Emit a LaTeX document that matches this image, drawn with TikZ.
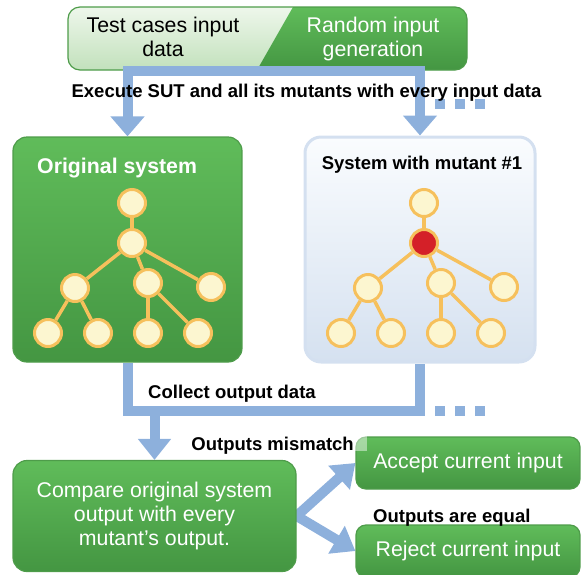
\documentclass[tikz,border=0pt]{standalone}
\usepackage{fontspec}
\setmainfont{Liberation Sans}
\usetikzlibrary{arrows.meta}
\pgfdeclarelayer{back}
\pgfsetlayers{back,main}
\definecolor{flowblue}{RGB}{141,176,220}
\definecolor{greentop}{RGB}{96,188,90}
\definecolor{greenbot}{RGB}{68,150,66}
\definecolor{greenline}{RGB}{78,156,74}
\definecolor{palegreentop}{RGB}{238,247,235}
\definecolor{palegreenbot}{RGB}{194,225,188}
\definecolor{bluetop}{RGB}{250,252,254}
\definecolor{bluebot}{RGB}{213,225,240}
\definecolor{blueline}{RGB}{212,224,240}
\definecolor{treeline}{RGB}{246,192,92}
\definecolor{treefill}{RGB}{252,246,208}
\definecolor{mutred}{RGB}{212,32,40}
\tikzset{
  boxfont/.style={font=\fontsize{21.3}{24}\selectfont},
  greenbox/.style={draw=greenline, line width=1.2pt, rounded corners=14pt,
    top color=greentop, bottom color=greenbot, text=white, boxfont,
    align=center, inner sep=0pt},
  bluebox/.style={draw=blueline, line width=3pt, rounded corners=16pt,
    top color=bluetop, bottom color=bluebot, inner sep=0pt},
  lblbold/.style={font=\fontsize{18.5}{22}\selectfont\bfseries, inner sep=0pt},
  treenode/.style={circle, draw=treeline, line width=3pt, fill=treefill,
    minimum size=27pt, inner sep=0pt},
  treeedge/.style={draw=treeline, line width=3.5pt},
  flowline/.style={draw=flowblue, line width=10pt, line join=miter},
  fattip/.style={-{Triangle[width=33pt,length=20pt]}},
  forktips/.style={{Triangle[width=31pt,length=22pt]}-{Triangle[width=31pt,length=22pt]}},
  dotrun/.style={dash pattern=on 10pt off 10pt, dash phase=10pt}
}
\begin{document}
\begin{tikzpicture}[x=1pt,y=-1pt]
  \useasboundingbox (0,0) rectangle (581,574);
  % input banner
  \begin{scope}
    \clip[rounded corners=12pt] (68,7) rectangle (467,70);
    \shade[top color=palegreentop, bottom color=palegreenbot] (68,7) -- (293,7) -- (257,70) -- (68,70) -- cycle;
    \shade[top color=greentop, bottom color=greenbot] (293,7) -- (467,7) -- (467,70) -- (257,70) -- cycle;
  \end{scope}
  \node[draw=greenline, line width=1.2pt, rounded corners=12pt, minimum width=399pt,
    minimum height=63pt, inner sep=0pt] (banner) at (267.5,38.5) {};
  \node[boxfont, align=center, inner sep=0pt] (tcase) at (163,37) {Test cases input\\data};
  \node[boxfont, align=center, inner sep=0pt, text=white] (rgen) at (373,39) {Random input\\generation};

  % the two systems
  \node[greenbox, minimum width=229pt, minimum height=225pt] (orig) at (127.5,249.5) {};
  \node[bluebox, minimum width=230pt, minimum height=225pt] (mut) at (420,249.5) {};
  \node[font=\fontsize{21.3}{24}\selectfont\bfseries, text=white, inner sep=0pt, anchor=base west]
    (origtitle) at (37,173) {Original system};
  \node[lblbold, anchor=base] (muttitle) at (422,169) {System with mutant \#1};

  % tree of the original system
  \node[treenode] (o1) at (132,203) {};  \node[treenode] (o2) at (132,243) {};
  \node[treenode] (o3) at (75,288) {};   \node[treenode] (o4) at (148,283) {};
  \node[treenode] (o5) at (211,287) {};
  \node[treenode] (o6) at (48,333) {};   \node[treenode] (o7) at (98,333) {};
  \node[treenode] (o8) at (148,333) {};  \node[treenode] (o9) at (198,333) {};
  \draw[treeedge] (o1) -- (o2);  \draw[treeedge] (o2) -- (o3);
  \draw[treeedge] (o2) -- (o4);  \draw[treeedge] (o2) -- (o5);
  \draw[treeedge] (o3) -- (o6);  \draw[treeedge] (o3) -- (o7);
  \draw[treeedge] (o4) -- (o8);  \draw[treeedge] (o4) -- (o9);

  % tree of the mutant
  \node[treenode] (m1) at (424,203) {};  \node[treenode, fill=mutred] (m2) at (424,243) {};
  \node[treenode] (m3) at (368,288) {};  \node[treenode] (m4) at (441,283) {};
  \node[treenode] (m5) at (504,287) {};
  \node[treenode] (m6) at (341,333) {};  \node[treenode] (m7) at (391,333) {};
  \node[treenode] (m8) at (441,333) {};  \node[treenode] (m9) at (491,333) {};
  \draw[treeedge] (m1) -- (m2);  \draw[treeedge] (m2) -- (m3);
  \draw[treeedge] (m2) -- (m4);  \draw[treeedge] (m2) -- (m5);
  \draw[treeedge] (m3) -- (m6);  \draw[treeedge] (m3) -- (m7);
  \draw[treeedge] (m4) -- (m8);  \draw[treeedge] (m4) -- (m9);

  % comparison and decisions
  \node[greenbox, minimum width=283pt, minimum height=111pt] (cmp) at (154.5,516)
    {Compare original system\\output with every\\mutant’s output.};
  \node[greenbox, rounded corners=10pt, minimum width=224pt, minimum height=52pt] (acc) at (468,463)
    {Accept current input};
  \node[greenbox, rounded corners=10pt, minimum width=224pt, minimum height=52pt] (rej) at (468,551)
    {Reject current input};
  \fill[white, opacity=0.45] (acc.north west) rectangle +(12,15);

  % input connectors
  \draw[flowline, fattip] (banner.south -| mut.north) -- (banner.south -| orig.north) -- (orig.north);
  \draw[flowline, fattip] (banner.south -| orig.north) -- (banner.south -| mut.north) -- (mut.north);
  \draw[flowline, dotrun] ([xshift=5pt,yshift=32pt]mut.north) -- ++(61,0);

  % output connectors
  \coordinate (collectbar) at (154.5,411);
  \draw[flowline] (orig.south) -- (orig.south |- collectbar) -- (mut.south |- collectbar) -- (mut.south);
  \draw[flowline, dotrun] ([xshift=5pt]mut.south |- collectbar) -- ++(61,0);
  \draw[flowline, -{Triangle[width=32pt,length=21pt]}] (collectbar) -- (cmp.north);
  \begin{pgfonlayer}{back}
    \draw[flowline, forktips] (acc.west) -- (cmp.east) -- (rej.west);
  \end{pgfonlayer}

  \node[lblbold, anchor=base] (execlbl) at (306.5,97)
    {Execute SUT and all its mutants with every input data};
  \node[lblbold, anchor=base west] (collectlbl) at (148,398) {Collect output data};
  \node[lblbold, anchor=base east] (mismatchlbl) at (354,450) {Outputs mismatch};
  \node[lblbold, anchor=base west] (equallbl) at (373,522) {Outputs are equal};
\end{tikzpicture}
\end{document}
